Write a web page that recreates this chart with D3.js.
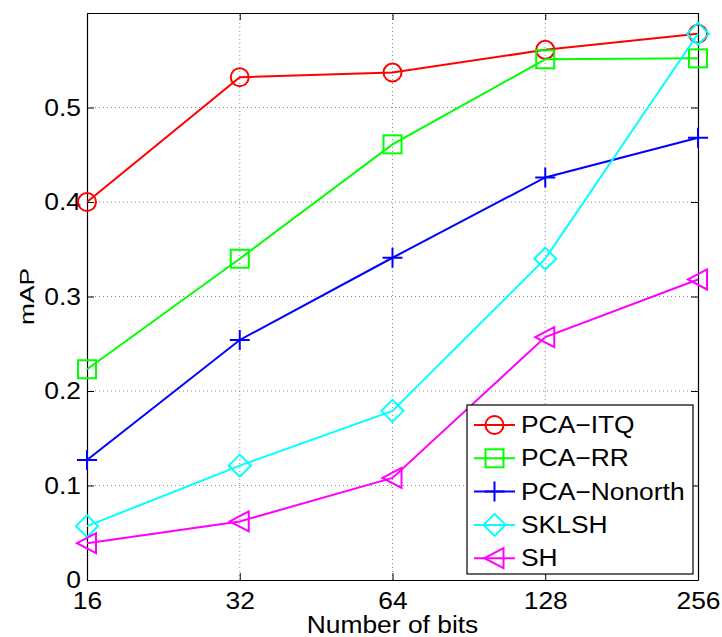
<!DOCTYPE html>
<html>
<head>
<meta charset="utf-8">
<script src="https://cdn.jsdelivr.net/npm/d3@7"></script>
<style>
  html, body { margin: 0; padding: 0; background: #fff; }
  svg { display: block; font-family: "Liberation Sans", Arial, Helvetica, sans-serif; }
</style>
</head>
<body>
<svg id="chart" width="722" height="637"></svg>
<script>
// Code length in bits (x axis, log2 spaced)
const bits = [16, 32, 64, 128, 256];
const xTickLabels = ["16", "32", "64", "128", "256"];
const yTicks = [0, 0.1, 0.2, 0.3, 0.4, 0.5];
const yTickLabels = ["0", "0.1", "0.2", "0.3", "0.4", "0.5"];

// mAP per method
const seriesNames = ["PCA\u2212ITQ", "PCA\u2212RR", "PCA\u2212Nonorth", "SKLSH", "SH"];
const pcaItq     = [0.400, 0.532, 0.537, 0.561, 0.578];
const pcaRr      = [0.223, 0.340, 0.461, 0.551, 0.552];
const pcaNonorth = [0.127, 0.254, 0.341, 0.426, 0.468];
const sklsh      = [0.057, 0.121, 0.179, 0.340, 0.578];
const sh         = [0.039, 0.062, 0.108, 0.257, 0.318];
const seriesValues = [pcaItq, pcaRr, pcaNonorth, sklsh, sh];
const seriesColors = ["#ff0000", "#00ff00", "#0000ff", "#00ffff", "#ff00ff"];
const seriesMarkers = ["circle", "square", "plus", "diamond", "triangleLeft"];

const svg = d3.select("#chart");
const plotLeft = 87, plotRight = 698, plotTop = 13, plotBottom = 580;
const fontStretch = 1.1; // glyphs are drawn slightly wider than the base face

const x = d3.scaleLog().base(2).domain([16, 256]).range([plotLeft, plotRight]);
const y = d3.scaleLinear().domain([0, 0.6]).range([plotBottom, plotTop]);

// Dotted grid
const grid = svg.append("g").attr("stroke", "#8a8a8a").attr("stroke-width", 1)
  .attr("stroke-dasharray", "1,3");
bits.slice(1, -1).forEach(b => {
  grid.append("line").attr("x1", x(b)).attr("x2", x(b)).attr("y1", plotBottom).attr("y2", plotTop);
});
yTicks.slice(1).forEach(t => {
  grid.append("line").attr("x1", plotLeft).attr("x2", plotRight).attr("y1", y(t)).attr("y2", y(t));
});

// Axes box with inward ticks on all four sides
const tickLen = 7;
const xAxisB = d3.axisBottom(x).tickValues(bits).tickFormat((d, i) => xTickLabels[i])
  .tickSizeInner(-tickLen).tickSizeOuter(0).tickPadding(12);
const xAxisT = d3.axisTop(x).tickValues(bits).tickFormat("")
  .tickSizeInner(-tickLen).tickSizeOuter(0);
const yAxisL = d3.axisLeft(y).tickValues(yTicks).tickFormat((d, i) => yTickLabels[i])
  .tickSizeInner(-tickLen).tickSizeOuter(0).tickPadding(0);
const yAxisR = d3.axisRight(y).tickValues(yTicks).tickFormat("")
  .tickSizeInner(-tickLen).tickSizeOuter(0);

function styleAxis(g) {
  g.selectAll("path").attr("stroke", "#000").attr("stroke-width", 1.2);
  g.selectAll("line").attr("stroke", "#000").attr("stroke-width", 1);
  g.selectAll("text").attr("fill", "#000").style("font-size", "24px")
    .style("font-family", "'Liberation Sans', Arial, Helvetica, sans-serif");
}
svg.append("g").attr("transform", `translate(0,${plotBottom})`).call(xAxisB).call(styleAxis)
  .selectAll(".tick text").attr("transform", `scale(${fontStretch},1)`);
svg.append("g").attr("transform", `translate(0,${plotTop})`).call(xAxisT).call(styleAxis);
svg.append("g").attr("transform", `translate(${plotLeft},0)`).call(yAxisL).call(styleAxis)
  .selectAll(".tick text").attr("x", 0).attr("transform", `translate(-6,0) scale(${fontStretch},1)`);
svg.append("g").attr("transform", `translate(${plotRight},0)`).call(yAxisR).call(styleAxis);

// Axis titles
svg.append("text")
  .attr("transform", `translate(${(plotLeft + plotRight) / 2},633) scale(${fontStretch},1)`)
  .attr("text-anchor", "middle").style("font-size", "24px").text("Number of bits");
svg.append("text")
  .attr("transform", `translate(34,${(plotTop + plotBottom) / 2}) rotate(-90) scale(1.25,1)`)
  .attr("text-anchor", "middle").style("font-size", "21px").text("mAP");

// Marker shapes
function drawMarker(g, type, cx, cy, color) {
  const s = g.append("g").attr("fill", "none").attr("stroke", color).attr("stroke-width", 2);
  if (type === "circle") {
    s.append("circle").attr("cx", cx).attr("cy", cy).attr("r", 9);
  } else if (type === "square") {
    s.append("rect").attr("x", cx - 9).attr("y", cy - 9).attr("width", 18).attr("height", 18);
  } else if (type === "plus") {
    s.append("path").attr("d", `M${cx - 10},${cy}H${cx + 10}M${cx},${cy - 10}V${cy + 10}`);
  } else if (type === "diamond") {
    s.append("path").attr("d", `M${cx},${cy - 11}L${cx + 11},${cy}L${cx},${cy + 11}L${cx - 11},${cy}Z`);
  } else if (type === "triangleLeft") {
    s.append("path").attr("d", `M${cx - 10},${cy}L${cx + 9},${cy - 10}L${cx + 9},${cy + 10}Z`);
  }
}

// Series lines and markers
const line = d3.line().x((d, i) => x(bits[i])).y(d => y(d));
seriesValues.forEach((vals, k) => {
  const g = svg.append("g");
  g.append("path").datum(vals).attr("d", line).attr("fill", "none")
    .attr("stroke", seriesColors[k]).attr("stroke-width", 2);
  vals.forEach((v, i) => drawMarker(g, seriesMarkers[k], x(bits[i]), y(v), seriesColors[k]));
});

// Legend
const lg = svg.append("g");
lg.append("rect").attr("x", 467).attr("y", 405).attr("width", 226).attr("height", 169)
  .attr("fill", "#fff").attr("stroke", "#000").attr("stroke-width", 1.2);
seriesNames.forEach((name, k) => {
  const cy = 425 + k * 33.3;
  lg.append("line").attr("x1", 474).attr("x2", 515).attr("y1", cy).attr("y2", cy)
    .attr("stroke", seriesColors[k]).attr("stroke-width", 2);
  drawMarker(lg, seriesMarkers[k], 494.5, cy, seriesColors[k]);
  lg.append("text").attr("transform", `translate(521,${cy + 8}) scale(${fontStretch},1)`)
    .style("font-size", "24px").attr("fill", "#000").text(name);
});
</script>
</body>
</html>
